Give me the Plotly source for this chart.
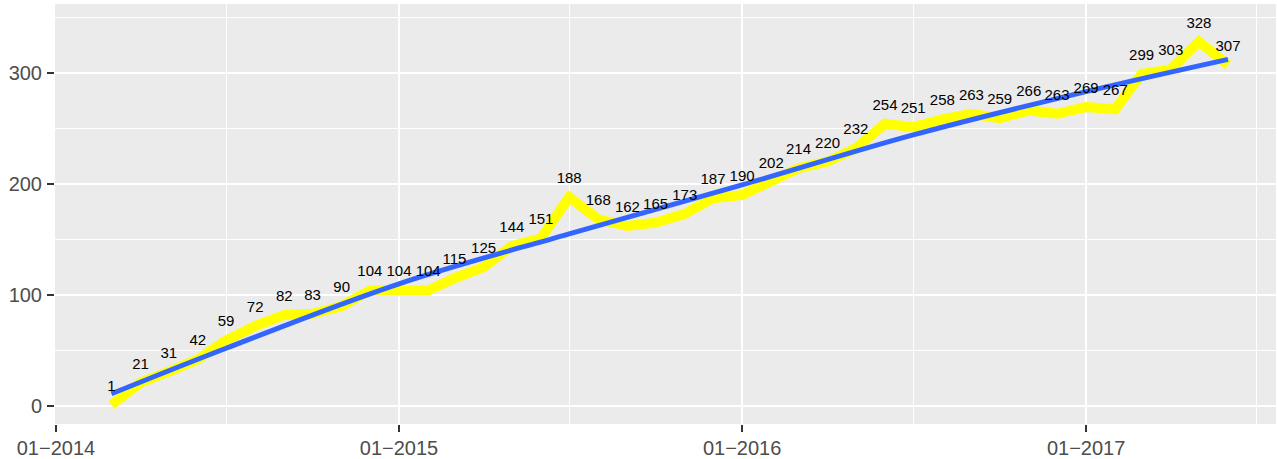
import plotly.graph_objects as go
import pandas as pd

# ---- data ----
months = pd.date_range("2014-03-01", periods=40, freq="MS")
counts = [1, 21, 31, 42, 59, 72, 82, 83, 90, 104,
          104, 104, 115, 125, 144, 151, 188, 168, 162, 165,
          173, 187, 190, 202, 214, 220, 232, 254, 251, 258,
          263, 259, 266, 263, 269, 267, 299, 303, 328, 307]

# smoothed trend
trend_dates = ["2014-03-01", "2014-07-01", "2015-01-01", "2015-07-01",
               "2016-01-01", "2016-07-01", "2017-01-01", "2017-06-01"]
trend_vals = [11, 52, 110, 155, 199, 244, 283, 312]

x_tick_vals = ["2014-01-01", "2015-01-01", "2016-01-01", "2017-01-01"]
x_tick_text = ["01\u22122014", "01\u22122015", "01\u22122016", "01\u22122017"]
x_minor_vals = ["2014-07-01", "2015-07-01", "2016-07-01", "2017-07-01"]
y_tick_vals = [0, 100, 200, 300]
y_minor_vals = [50, 150, 250, 350]

label_nudge = 16

fig = go.Figure()
fig.add_trace(go.Scatter(
    x=months, y=counts, mode="lines",
    line=dict(color="#FFFF00", width=10),
    hoverinfo="skip", showlegend=False))
fig.add_trace(go.Scatter(
    x=pd.to_datetime(trend_dates), y=trend_vals, mode="lines",
    line=dict(color="#3366FF", width=5, shape="spline", smoothing=1.0),
    hoverinfo="skip", showlegend=False))
fig.add_trace(go.Scatter(
    x=months, y=[v + label_nudge for v in counts], mode="text",
    text=[str(v) for v in counts], textposition="middle center",
    textfont=dict(family="Liberation Sans, Arial, sans-serif", size=15, color="black"),
    hoverinfo="skip", showlegend=False, cliponaxis=False))

fig.update_layout(
    width=1277, height=459,
    margin=dict(l=55, r=1, t=4, b=35),
    paper_bgcolor="white", plot_bgcolor="#EBEBEB",
    font=dict(family="Liberation Sans, Arial, sans-serif"),
)
fig.update_xaxes(
    type="date", automargin=False,
    range=["2013-12-31", "2017-07-22"],
    tickmode="array", tickvals=x_tick_vals, ticktext=x_tick_text,
    tickfont=dict(size=20, color="#4D4D4D"),
    ticks="outside", ticklen=7, tickwidth=2, tickcolor="#333333",
    ticklabelstandoff=-1,
    showgrid=True, gridcolor="white", gridwidth=2.4,
    minor=dict(tickmode="array", tickvals=x_minor_vals, showgrid=True,
               gridcolor="white", gridwidth=1.2, ticks=""),
    zeroline=False, showline=False,
)
fig.update_yaxes(
    automargin=False,
    range=[-16.2, 361.8],
    tickmode="array", tickvals=y_tick_vals,
    tickfont=dict(size=20, color="#4D4D4D"),
    ticks="outside", ticklen=7, tickwidth=2, tickcolor="#333333",
    ticklabelstandoff=1,
    showgrid=True, gridcolor="white", gridwidth=2.4,
    minor=dict(tickmode="array", tickvals=y_minor_vals, showgrid=True,
               gridcolor="white", gridwidth=1.2, ticks=""),
    zeroline=False, showline=False,
)

fig.write_html("out.html",
               config={"displayModeBar": False},
               post_script="document.body.style.margin='0';document.body.style.overflow='hidden';")
